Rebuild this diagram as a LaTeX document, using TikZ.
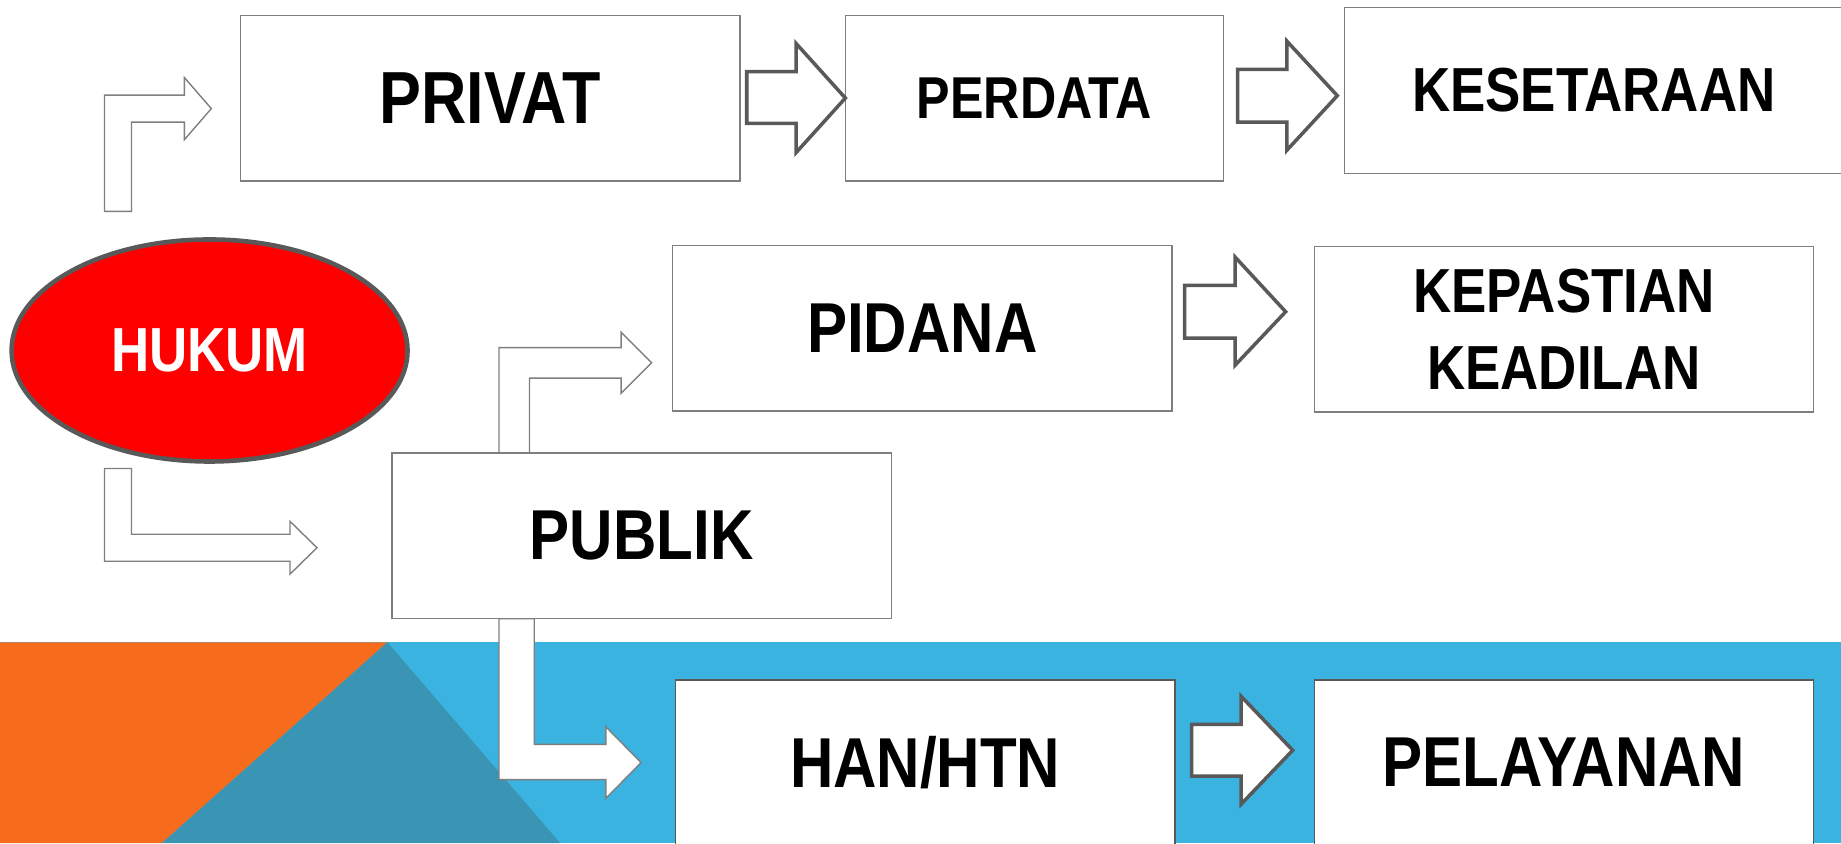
\documentclass[tikz,border=0pt]{standalone}
\usepackage{fontspec}
\setmainfont[FakeStretch=0.85]{Liberation Sans}
\usetikzlibrary{shapes.geometric}
\definecolor{bandblue}{HTML}{3BB3E0}
\definecolor{bandorange}{HTML}{F76B1C}
\definecolor{bandteal}{HTML}{3A95B5}
\definecolor{linegray}{HTML}{595959}
\definecolor{boxgray}{HTML}{7F7F7F}
\begin{document}
\begin{tikzpicture}[x=0.011741cm,y=-0.011741cm]
	\tikzstyle{box}=[rectangle,draw=boxgray,line width=0.4pt,fill=white,minimum width=4.99cm,minimum height=1.655cm,inner sep=0pt,align=center]
	\tikzstyle{blockarrow}=[draw=linegray,line width=1pt,fill=white]
	\tikzstyle{bentarrow}=[draw=boxgray,line width=0.4pt,fill=white]
	\useasboundingbox (0,0) rectangle (1568,718);
	\clip (0,0) rectangle (1568,718);
	% band at the bottom
	\fill[bandblue] (0,547) rectangle (1568,718);
	\fill[bandorange] (0,547) -- (330,547) -- (138,718) -- (0,718) -- cycle;
	\fill[bandteal] (330,547) -- (477,718) -- (138,718) -- cycle;
	% bent arrows
	\draw[bentarrow] (89,180) -- (89,81) -- (157,81) -- (157,66) -- (180,92.5) -- (157,119) -- (157,104) -- (112,104) -- (112,180) -- cycle;
	\draw[bentarrow] (89,399) -- (112,399) -- (112,455) -- (247,455) -- (247,444) -- (270,466.5) -- (247,489) -- (247,478) -- (89,478) -- cycle;
	\draw[bentarrow] (425,386) -- (425,296) -- (529,296) -- (529,283) -- (555,309) -- (529,335) -- (529,322) -- (451,322) -- (451,386) -- cycle;
	\draw[bentarrow] (425,527) -- (425,664) -- (516,664) -- (516,680) -- (546,649.5) -- (516,619) -- (516,634) -- (455,634) -- (455,527) -- cycle;
	% boxes
	\node[box,font=\fontsize{21}{25}\selectfont\bfseries] (privat) at (417.5,83.5) {PRIVAT};
	\node[box,minimum width=3.78cm,font=\fontsize{16.8}{20}\selectfont\bfseries] (perdata) at (881,83.5) {PERDATA};
	\node[box,font=\fontsize{17.7}{21}\selectfont\bfseries] (kesetaraan) at (1357.5,77) {KESETARAAN};
	\node[box,font=\fontsize{20.1}{24}\selectfont\bfseries] (pidana) at (785.5,279.5) {PIDANA};
	\node[box,font=\fontsize{17.7}{21.7}\selectfont\bfseries] (kepastian) at (1332,280.5) {KEPASTIAN\\KEADILAN};
	\node[box,font=\fontsize{20.1}{24}\selectfont\bfseries] (publik) at (546.5,456.5) {PUBLIK};
	\node[box,draw=linegray,font=\fontsize{20.1}{24}\selectfont\bfseries] (han) at (788,649.5) {HAN/HTN};
	\node[box,draw=linegray,font=\fontsize{20.1}{24}\selectfont\bfseries] (pelayanan) at (1332,649.5) {PELAYANAN};
	% block arrows
	\draw[blockarrow] (636,61) -- (678,61) -- (678,37) -- (720,83.5) -- (678,130) -- (678,105) -- (636,105) -- cycle;
	\draw[blockarrow] (1054,59) -- (1096,59) -- (1096,35) -- (1139,81.5) -- (1096,128) -- (1096,104) -- (1054,104) -- cycle;
	\draw[blockarrow] (1009,243) -- (1052,243) -- (1052,219) -- (1095,265.5) -- (1052,311) -- (1052,288) -- (1009,288) -- cycle;
	\draw[blockarrow] (1015,617) -- (1057,617) -- (1057,593) -- (1101,639) -- (1057,685) -- (1057,661) -- (1015,661) -- cycle;
	% root
	\node[ellipse,draw=linegray,line width=1.3pt,fill=red,minimum width=3.957cm,minimum height=2.219cm,inner sep=0pt,text=white,font=\fontsize{17.7}{21}\selectfont\bfseries] (hukum) at (178.5,298.5) {HUKUM};
\end{tikzpicture}
\end{document}
